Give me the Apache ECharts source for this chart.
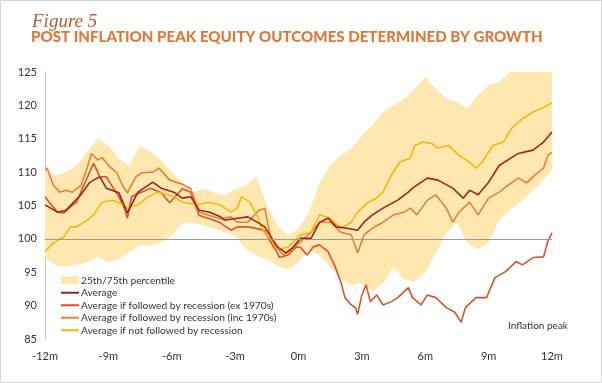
<!DOCTYPE html>
<html>
<head>
<meta charset="utf-8">
<script src="https://cdn.jsdelivr.net/npm/echarts@6/dist/echarts.min.js"></script>
<style>
html,body{margin:0;padding:0;background:#fff;}
#c{width:602px;height:383px;}
</style>
</head>
<body>
<div id="c"></div>
<script>
// ---- data (months relative to inflation peak, index level) ----
var xTicks = [-12, -9, -6, -3, 0, 3, 6, 9, 12];
var yTicks = [85, 90, 95, 100, 105, 110, 115, 120, 125];

var bandX = [-12,-11.5,-11,-10.5,-10,-9.5,-9,-8.5,-8,-7.5,-7,-6.5,-6,-5.5,-5,-4.5,-4,-3.5,-3,-2.5,-2,-1.5,-1,-0.5,0,0.5,1,1.5,2,2.5,3,3.5,4,4.5,5,5.5,6,6.5,7,7.5,8,8.5,9,9.5,10,10.5,11,11.5,12];
var bandHi = [110.3,109.5,110,111,113,115,114,112,111,114,113,111.8,110,108.5,107,107.5,107,106.5,107.5,108,109.3,105,102,100.5,101.5,104,108.5,111,112.5,113.5,115.5,117,119,120,121,122.5,124.3,122.5,121,120.5,119.5,121.5,123,123.5,125,125,125,125,125];
var bandLo = [97.3,96,95.8,96.1,96.5,97.3,96.5,97,98.1,99,99,99.5,100.5,102.3,102.5,102,101.5,101,100.5,98.5,97.5,97,96,95.4,96.5,98.4,97.5,95.8,94,93,93.4,92.1,93.4,95.8,93.9,93.6,95,97.9,100.9,102.5,99.4,98.4,99.5,102.8,104.3,105.5,107,108.5,110.3];

var avgData = [[-12,105.1],[-11.4,104.0],[-11,104.3],[-10.3,106.6],[-9.9,108.4],[-9.7,108.8],[-9.4,109.3],[-9.1,107.6],[-8.5,106.9],[-8.1,103.9],[-7.6,107],[-6.9,108.5],[-6.5,107.6],[-5.9,107],[-5.5,106.1],[-5.1,106.3],[-4.7,104.3],[-4.2,104],[-3.7,103.3],[-3.5,102.8],[-2.9,103.1],[-2.4,103.3],[-1.9,102.4],[-1.6,101.8],[-1.3,100.3],[-1.0,98.8],[-0.6,97.9],[-0.3,98.6],[0.1,100.1],[0.6,100.1],[1.0,102.5],[1.4,103.1],[1.8,101.8],[2.3,101.6],[2.8,101.3],[3.1,102.5],[3.5,103.6],[4.0,104.6],[4.7,105.8],[5.2,107],[5.4,107.6],[6.1,109.1],[6.6,108.8],[7.3,107.6],[7.8,106.1],[8.1,107.3],[8.5,106.6],[9.0,108.5],[9.5,111],[9.9,111.8],[10.4,112.8],[11.1,113.3],[11.6,114.5],[12,116]];

var exRecData = [[-12,106.3],[-11.8,105.5],[-11.4,104],[-11.1,103.9],[-10.8,104.8],[-10.5,105.5],[-10.2,107.8],[-9.9,109.9],[-9.7,111.3],[-9.4,109.3],[-9.1,109.3],[-8.8,107.8],[-8.5,106.3],[-8.2,104.3],[-8.1,103.1],[-7.9,106.3],[-7.5,106.9],[-7.0,107.6],[-6.5,106.9],[-6.1,105.4],[-5.5,107.5],[-5.1,107],[-4.7,103.5],[-4.2,103],[-3.7,102.4],[-3.2,101.3],[-2.9,101.8],[-2.4,101.8],[-1.9,101.5],[-1.6,101.2],[-1.3,99.4],[-1.0,97.9],[-0.9,97.2],[-0.5,97.6],[-0.1,98.8],[0.1,98.7],[0.4,97.6],[0.7,98.8],[1.0,99.1],[1.4,98.1],[1.7,96.1],[2.0,93.6],[2.2,91.2],[2.5,90.1],[2.7,89.7],[2.8,88.7],[3.0,91.6],[3.2,93.1],[3.4,90.6],[3.7,91.6],[4.0,90.1],[4.4,90.6],[4.7,91.2],[5.2,92.7],[5.4,91.2],[5.8,90.1],[6.1,91.6],[6.5,91.2],[7.0,89.7],[7.4,89],[7.7,87.5],[7.9,89.7],[8.4,91.2],[8.9,91.2],[9.3,94.2],[9.8,95.1],[10.3,96.6],[10.6,96.1],[11.1,97.2],[11.6,97.3],[11.8,99.6],[12,100.9]];

var incRecData = [[-12,110.3],[-11.9,110.6],[-11.6,108],[-11.3,107],[-11,107.3],[-10.7,107],[-10.3,108],[-10,110.7],[-9.8,112.8],[-9.5,111.8],[-9.3,112.2],[-8.9,110.7],[-8.6,109.9],[-8.3,107.8],[-8.1,106.9],[-7.7,109.3],[-7.4,109.9],[-6.9,110],[-6.6,110.6],[-6.1,108.8],[-5.5,108.2],[-5.1,107.5],[-4.7,104],[-4.2,103.5],[-3.7,103],[-3.2,103.3],[-2.9,102.5],[-2.4,102.5],[-1.9,104.2],[-1.6,104.6],[-1.3,99.8],[-1.0,98.5],[-0.7,97.6],[-0.3,98.5],[0.1,99.6],[0.6,101],[1.0,102.5],[1.5,102.5],[2.0,101],[2.5,100.6],[2.8,97.9],[3.1,100.6],[3.5,101.6],[4.0,102.5],[4.5,103.6],[5.0,104],[5.3,104.6],[5.6,103.6],[6.1,105.8],[6.5,106.6],[7.0,104.6],[7.3,102.5],[7.6,104],[8.1,105.5],[8.5,103.6],[9.0,106.1],[9.5,107],[9.9,108],[10.4,109.1],[10.8,108.4],[11.2,109.6],[11.6,110.6],[11.8,112.5],[12,113]];

var notRecData = [[-12,98.1],[-11.6,99.4],[-11.1,100.3],[-10.8,101.8],[-10.5,101.8],[-10,102.8],[-9.7,103.6],[-9.3,105.5],[-8.8,105.8],[-8.3,105.1],[-8.1,104.6],[-7.6,105.1],[-7.2,106.1],[-6.7,107],[-6.2,106.6],[-5.9,106.3],[-5.5,105.5],[-4.8,105.1],[-4.3,105.5],[-3.7,105.1],[-3.2,104],[-2.9,104.6],[-2.7,106.3],[-2.3,105.5],[-1.9,103.1],[-1.7,101.3],[-1.3,99.9],[-0.9,98.4],[-0.5,98.8],[-0.3,99.4],[0.1,100.6],[0.6,101],[1.0,103.6],[1.5,103.1],[2.0,101.6],[2.5,102.5],[2.8,104],[3.3,105.5],[3.7,106.1],[4.0,107],[4.4,109.6],[4.8,111.5],[5.3,112.1],[5.5,114],[5.9,114.5],[6.3,114.3],[6.6,113.6],[7.1,114],[7.6,112.5],[8.1,111.5],[8.4,110.6],[8.7,111.5],[9.2,114],[9.7,114.5],[10.1,116.6],[10.6,118],[11.1,119],[11.6,119.7],[12,120.4]];

var names = ['25th/75th percentile','Average','Average if followed by recession (ex 1970s)','Average if followed by recession (inc 1970s)','Average if not followed by recession'];
var colors = ['#fee8b0','#a51f1b','#d9532a','#e3803a','#f1b90a'];

// ---- build ----
var bandRows = bandX.map(function(x,i){return [x, bandLo[i], bandHi[i]];});
var lineIcon = 'path://M0,0L18,0L18,2L0,2Z';

function lineSeries(name, data, color, z){
  return {name:name, type:'line', data:data, symbol:'none', showSymbol:false, z:z,
    lineStyle:{color:color, width:1.6}, itemStyle:{color:color}, silent:true, animation:false};
}

var chart = echarts.init(document.getElementById('c'), null, {renderer:'canvas'});
chart.setOption({
  animation:false,
  backgroundColor:'#fff',
  title:[
    {text:'Figure 5', left:27, top:7, textStyle:{fontFamily:'Liberation Serif', fontStyle:'italic', fontWeight:'normal', fontSize:19, color:'#bd5a33'}},
    {text:'POST INFLATION PEAK EQUITY OUTCOMES DETERMINED BY GROWTH', left:26, top:25, textStyle:{fontFamily:'Lato', fontWeight:900, fontSize:15.1, color:'#dd7838'}}
  ],
  grid:{left:45, right:50, top:72, bottom:44, containLabel:false},
  xAxis:{type:'value', min:-12, max:12, interval:3,
    axisLine:{show:false}, axisTick:{show:false}, splitLine:{show:false},
    axisLabel:{margin:12, fontFamily:'Lato', fontSize:11, color:'#333', formatter:function(v){return v+'m';}}},
  yAxis:{type:'value', min:85, max:125, interval:5,
    axisLine:{show:true, onZero:false, lineStyle:{color:'#c8c8c8', width:1}}, axisTick:{show:false}, splitLine:{show:false},
    axisLabel:{margin:8, fontFamily:'Lato', fontSize:11, color:'#333'}},
  legend:{orient:'vertical', left:56, top:269, itemWidth:18, itemHeight:8, itemGap:0, symbolKeepAspect:true,
    textStyle:{fontFamily:'Lato', fontSize:10.2, lineHeight:12.5, color:'#333', padding:[0,0,0,-3]},
    data:[{name:names[0], icon:'rect'}, {name:names[1], icon:lineIcon}, {name:names[2], icon:lineIcon}, {name:names[3], icon:lineIcon}, {name:names[4], icon:lineIcon}]},
  graphic:[
    {type:'text', left:508, top:321, style:{text:'Inflation peak', fontFamily:'Lato', fontSize:10, fill:'#333'}},
    {type:'rect', shape:{x:0.5, y:0.5, width:601, height:382}, style:{fill:'none', stroke:'#d4d4d4', lineWidth:1}, silent:true, z:100}
  ],
  series:[
    {name:names[0], type:'custom', data:bandRows, z:1, silent:true,
      itemStyle:{color:colors[0]},
      encode:{x:0, y:[1,2]},
      renderItem:function(params, api){
        if (params.dataIndex !== 0) return null;
        var pts = [];
        for (var i=0;i<bandRows.length;i++) pts.push(api.coord([bandRows[i][0], bandRows[i][2]]));
        for (var j=bandRows.length-1;j>=0;j--) pts.push(api.coord([bandRows[j][0], bandRows[j][1]]));
        return {type:'polygon', shape:{points:pts}, style:{fill:colors[0], stroke:null}};
      }},
    {name:'ref', type:'line', data:[], z:2, silent:true,
      markLine:{silent:true, symbol:'none', label:{show:false}, lineStyle:{color:'#9a9a9a', width:1, type:'solid'}, data:[{yAxis:100}]}},
    lineSeries(names[2], exRecData, colors[2], 3),
    lineSeries(names[3], incRecData, colors[3], 3),
    lineSeries(names[4], notRecData, colors[4], 3),
    lineSeries(names[1], avgData, colors[1], 4)
  ]
});
</script>
</body>
</html>
